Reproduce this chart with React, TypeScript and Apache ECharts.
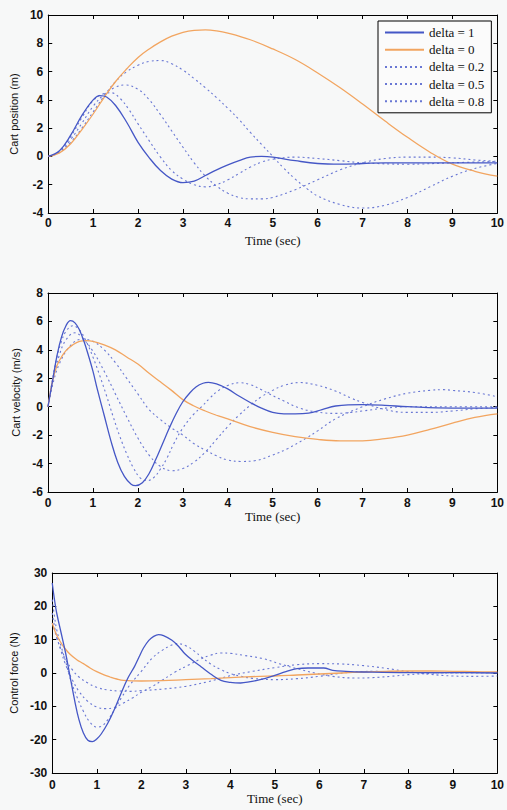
import React, { useEffect, useRef } from "react";
import * as echarts from "echarts";

const seriesNames = ["delta = 1", "delta = 0", "delta = 0.2", "delta = 0.5", "delta = 0.8"];
const axisTitles = ["Cart position (m)", "Cart velocity (m/s)", "Control force (N)"];
const xTitle = "Time (sec)";

// Cart position (m)
const posD1 = [[0,0],[0.25,0.4],[0.5,1.5],[0.75,2.9],[1,4.0],[1.15,4.3],[1.3,4.2],[1.5,3.6],[1.75,2.4],[2,1.0],[2.25,-0.1],[2.5,-1.0],[2.75,-1.6],[3,-1.85],[3.25,-1.75],[3.5,-1.35],[3.75,-0.95],[4,-0.6],[4.25,-0.3],[4.5,-0.05],[4.75,0.0],[5,-0.05],[5.5,-0.3],[6,-0.5],[6.5,-0.55],[7,-0.5],[7.5,-0.45],[8,-0.45],[9,-0.45],[10,-0.45]];
const posD0 = [[0,0],[0.25,0.25],[0.5,0.9],[0.75,1.9],[1,3.0],[1.25,4.2],[1.5,5.3],[1.75,6.2],[2,7.0],[2.25,7.6],[2.5,8.1],[2.75,8.5],[3,8.78],[3.25,8.92],[3.5,8.95],[3.75,8.88],[4,8.72],[4.5,8.25],[5,7.6],[5.5,6.85],[6,5.9],[6.5,4.85],[7,3.7],[7.5,2.5],[8,1.35],[8.5,0.3],[9,-0.55],[9.5,-1.05],[10,-1.4]];
const posD02 = [[0,0],[0.25,0.28],[0.5,1.0],[0.75,2.0],[1,3.15],[1.25,4.3],[1.5,5.3],[1.75,6.0],[2,6.45],[2.25,6.72],[2.5,6.78],[2.75,6.55],[3,6.1],[3.25,5.5],[3.5,4.85],[3.75,4.15],[4,3.4],[4.25,2.6],[4.5,1.7],[4.75,0.85],[5,0.0],[5.25,-0.85],[5.5,-1.6],[5.75,-2.25],[6,-2.8],[6.5,-3.4],[7,-3.65],[7.5,-3.45],[8,-2.9],[8.5,-2.15],[9,-1.4],[9.5,-0.85],[10,-0.5]];
const posD05 = [[0,0],[0.25,0.32],[0.5,1.2],[0.75,2.35],[1,3.55],[1.25,4.4],[1.5,4.9],[1.7,5.05],[2,4.75],[2.25,4.0],[2.5,2.95],[2.75,1.8],[3,0.65],[3.25,-0.45],[3.5,-1.4],[3.75,-2.1],[4,-2.6],[4.25,-2.9],[4.5,-3.0],[4.75,-3.0],[5,-2.9],[5.5,-2.35],[6,-1.65],[6.5,-0.95],[7,-0.45],[7.5,-0.15],[8,-0.05],[8.5,-0.05],[9,-0.1],[9.5,-0.25],[10,-0.35]];
const posD08 = [[0,0],[0.25,0.36],[0.5,1.4],[0.75,2.75],[1,3.95],[1.25,4.45],[1.4,4.5],[1.6,4.1],[1.8,3.3],[2,2.3],[2.25,1.1],[2.5,-0.05],[2.75,-1.0],[3,-1.6],[3.25,-2.0],[3.5,-2.15],[3.75,-2.0],[4,-1.65],[4.25,-1.2],[4.5,-0.75],[4.75,-0.4],[5,-0.2],[5.5,-0.05],[6,-0.15],[6.5,-0.3],[7,-0.45],[8,-0.55],[9,-0.45],[10,-0.35]];

// Cart velocity (m/s)
const velD1 = [[0,0],[0.1,1.8],[0.2,3.6],[0.3,4.9],[0.4,5.7],[0.5,6.05],[0.6,5.9],[0.7,5.4],[0.8,4.6],[0.9,3.6],[1,2.5],[1.1,1.2],[1.25,-0.6],[1.4,-2.4],[1.55,-3.9],[1.7,-4.9],[1.85,-5.45],[1.95,-5.55],[2.1,-5.35],[2.25,-4.7],[2.4,-3.7],[2.55,-2.6],[2.7,-1.5],[2.85,-0.5],[3,0.35],[3.15,0.95],[3.3,1.4],[3.45,1.65],[3.57,1.71],[3.75,1.6],[4,1.25],[4.25,0.75],[4.5,0.3],[4.75,-0.1],[5,-0.4],[5.25,-0.5],[5.5,-0.5],[5.8,-0.45],[6.1,-0.2],[6.4,0.05],[7,0.15],[7.5,0.1],[8,0.0],[9,-0.1],[10,-0.1]];
const velD0 = [[0,0],[0.1,1.8],[0.2,2.9],[0.3,3.5],[0.4,3.95],[0.55,4.35],[0.7,4.6],[0.85,4.65],[1,4.6],[1.25,4.35],[1.5,4.0],[1.75,3.5],[2,3.0],[2.25,2.35],[2.5,1.75],[2.75,1.15],[3,0.5],[3.25,0.05],[3.5,-0.3],[3.75,-0.6],[4,-0.85],[4.5,-1.4],[5,-1.8],[5.5,-2.1],[6,-2.3],[6.5,-2.4],[7,-2.4],[7.5,-2.25],[8,-2.0],[8.5,-1.6],[9,-1.15],[9.5,-0.75],[10,-0.5]];
const velD02 = [[0,0],[0.1,1.5],[0.25,3.0],[0.5,4.3],[0.75,4.75],[1,4.6],[1.25,4.0],[1.5,3.1],[1.75,2.0],[2,0.9],[2.25,-0.2],[2.5,-0.9],[2.75,-1.5],[3,-2.0],[3.25,-2.6],[3.5,-3.05],[3.75,-3.45],[4,-3.75],[4.3,-3.85],[4.6,-3.8],[5,-3.4],[5.33,-2.95],[5.75,-2.2],[6,-1.7],[6.4,-0.85],[7,0.0],[7.5,0.55],[8,0.95],[8.5,1.15],[8.8,1.2],[9,1.15],[9.5,1.0],[10,0.7]];
const velD05 = [[0,0],[0.1,1.8],[0.25,3.6],[0.4,4.7],[0.6,5.2],[0.75,4.9],[1,3.9],[1.25,2.5],[1.5,0.9],[1.75,-0.7],[2,-2.2],[2.25,-3.4],[2.5,-4.2],[2.76,-4.5],[3,-4.35],[3.25,-3.9],[3.5,-3.2],[3.75,-2.3],[4,-1.4],[4.25,-0.6],[4.5,0.1],[4.75,0.7],[5,1.15],[5.25,1.5],[5.6,1.7],[6,1.5],[6.4,1.1],[6.75,0.6],[7,0.3],[7.5,-0.2],[8,-0.4],[8.5,-0.4],[9,-0.3],[9.5,-0.15],[10,-0.05]];
const velD08 = [[0,0],[0.1,1.9],[0.2,3.5],[0.3,4.6],[0.4,5.3],[0.55,5.7],[0.7,5.4],[0.85,4.6],[1,3.5],[1.15,2.2],[1.3,0.8],[1.45,-0.7],[1.6,-2.1],[1.75,-3.3],[1.9,-4.3],[2.05,-5.0],[2.2,-5.2],[2.35,-5.0],[2.5,-4.4],[2.65,-3.6],[2.8,-2.6],[3,-1.5],[3.25,-0.5],[3.42,0.0],[3.6,0.6],[3.8,1.15],[4,1.5],[4.27,1.69],[4.5,1.55],[4.75,1.2],[4.9,0.94],[5.25,0.4],[5.6,-0.1],[6,-0.38],[6.4,-0.47],[6.75,-0.4],[7,-0.3],[7.5,-0.1],[8,0.0],[9,0.0],[10,0.0]];

// Control force (N)
const frcD1 = [[0,27],[0.05,22],[0.1,18],[0.2,12],[0.3,6],[0.4,-1],[0.5,-8],[0.6,-14],[0.7,-18],[0.8,-20.2],[0.9,-20.6],[1.0,-19.8],[1.1,-18.3],[1.25,-15],[1.4,-10.8],[1.55,-6],[1.7,-1.5],[1.85,2.0],[1.95,4.8],[2.05,7.5],[2.17,9.8],[2.28,11.0],[2.39,11.5],[2.5,11.2],[2.69,9.8],[2.85,7.8],[2.98,5.8],[3.15,3.8],[3.35,1.8],[3.55,-0.2],[3.79,-2.2],[4.0,-2.8],[4.23,-3.0],[4.45,-2.6],[4.67,-2.0],[5.0,-0.7],[5.25,0.4],[5.5,1.3],[5.75,1.5],[6.1,1.5],[6.3,0.8],[6.6,0.5],[7.0,0.3],[8.0,0.1],[9.0,0.1],[10,0.0]];
const frcD0 = [[0,15],[0.05,13],[0.1,11.3],[0.2,9],[0.26,7.8],[0.4,5.6],[0.55,4.0],[0.7,2.8],[0.85,1.5],[1.0,0.4],[1.15,-0.5],[1.3,-1.2],[1.45,-1.8],[1.6,-2.2],[2.0,-2.4],[2.47,-2.3],[3.0,-2.0],[3.57,-1.7],[4.0,-1.4],[4.67,-1.0],[5.0,-0.9],[5.5,-0.6],[6.0,-0.3],[6.5,0.0],[7.0,0.3],[7.5,0.5],[8.0,0.6],[8.5,0.6],[9.0,0.5],[9.5,0.4],[10,0.3]];
const frcD02 = [[0,15],[0.05,13],[0.1,10.5],[0.2,7],[0.3,4],[0.45,1],[0.6,-1.2],[0.8,-3],[1.0,-4.3],[1.25,-5.1],[1.5,-5.4],[1.75,-5.5],[2.0,-5.3],[2.5,-4.8],[3.0,-4.0],[3.5,-2.6],[4.0,-0.8],[4.5,0.5],[5.0,1.6],[5.5,2.5],[6.0,2.8],[6.5,2.7],[7.0,2.2],[7.5,1.4],[8.0,0.4],[8.5,-0.4],[9.0,-0.9],[9.5,-1.0],[10,-0.9]];
const frcD05 = [[0,18],[0.05,14],[0.1,11],[0.2,6.5],[0.3,2.5],[0.45,-2],[0.6,-5.5],[0.8,-8.5],[1.0,-10.2],[1.2,-10.7],[1.4,-10.3],[1.6,-9],[1.8,-7.5],[2.0,-5.8],[2.25,-4.0],[2.47,-2.2],[2.75,0.2],[3.05,2.3],[3.3,4.0],[3.55,5.3],[3.79,6.0],[4.0,5.9],[4.3,5.3],[4.74,4.3],[5.1,2.8],[5.5,1.3],[5.9,0.0],[6.3,-1.0],[6.8,-1.5],[7.2,-1.4],[7.6,-1.0],[8.0,-0.5],[8.5,-0.1],[9.0,0.1],[10,0.1]];
const frcD08 = [[0,22],[0.05,17],[0.1,13],[0.2,8],[0.3,3.5],[0.4,-1.5],[0.55,-7],[0.7,-11.5],[0.85,-14.8],[1.0,-16.2],[1.1,-16.0],[1.25,-14],[1.4,-11],[1.55,-7.5],[1.75,-3.5],[2.0,0.5],[2.25,4.5],[2.47,6.8],[2.65,8.2],[2.8,8.8],[3.0,8.2],[3.2,6.5],[3.35,4.8],[3.55,2.8],[3.79,1.0],[4.0,-0.2],[4.25,-1.0],[4.5,-1.6],[5.0,-2.0],[5.5,-1.7],[6.0,-1.0],[6.4,-0.2],[6.8,0.3],[7.2,0.5],[7.5,0.4],[8.0,0.2],[9.0,0.0],[10,0.0]];

const panels = [
  [posD1, posD0, posD02, posD05, posD08],
  [velD1, velD0, velD02, velD05, velD08],
  [frcD1, frcD0, frcD02, frcD05, frcD08],
];
const yMins = [-4, -6, -30];
const yMaxs = [10, 8, 30];
const yIntervals = [2, 2, 10];

export default function App() {
  const ref = useRef<HTMLDivElement>(null);
  useEffect(() => {
    if (!ref.current) return;
    const chart = echarts.init(ref.current, null, { renderer: "svg" });
    const grids = [
      { left: 48, top: 15, width: 454, height: 198 },
      { left: 48, top: 293, width: 454, height: 199 },
      { left: 48, top: 573, width: 454, height: 200 },
    ];
    const labelMargins = [4, 5, 6];
    const nameGaps = [21, 18, 14];
    const tickFont = { fontFamily: "Liberation Sans", fontSize: 12, fontWeight: "bold" as const, color: "#111" };
    const axisLine = { show: true, onZero: false, lineStyle: { color: "#000", width: 1 } };
    const tick = { show: true, inside: true, length: 4, lineStyle: { color: "#000" } };
    const xAxes: any[] = [];
    const yAxes: any[] = [];
    for (let i = 0; i < 3; i++) {
      xAxes.push({
        type: "value", gridIndex: i, min: 0, max: 10, interval: 1, position: "bottom",
        axisLine, axisTick: tick, splitLine: { show: false },
        axisLabel: { ...tickFont, margin: labelMargins[i] },
        name: xTitle, nameLocation: "middle", nameGap: nameGaps[i],
        nameTextStyle: { fontFamily: "Liberation Serif", fontSize: 13, color: "#111" },
      });
      yAxes.push({
        type: "value", gridIndex: i, min: yMins[i], max: yMaxs[i], interval: yIntervals[i], position: "left",
        axisLine, axisTick: tick, splitLine: { show: false },
        axisLabel: { ...tickFont, margin: 5 },
        name: axisTitles[i], nameLocation: "middle", nameGap: 26, nameRotate: 90,
        nameTextStyle: { fontFamily: "Liberation Sans", fontSize: 11, color: "#111" },
      });
    }
    for (let i = 0; i < 3; i++) {
      xAxes.push({
        type: "value", gridIndex: i, min: 0, max: 10, interval: 1, position: "top",
        axisLine, axisTick: tick, axisLabel: { show: false }, splitLine: { show: false },
      });
      yAxes.push({
        type: "value", gridIndex: i, min: yMins[i], max: yMaxs[i], interval: yIntervals[i], position: "right",
        axisLine, axisTick: tick, axisLabel: { show: false }, splitLine: { show: false },
      });
    }
    const styles = [
      { color: "#4557c6", width: 1.3, type: "solid" },
      { color: "#f2a560", width: 1.3, type: "solid" },
      { color: "#6a78d4", width: 1.1, type: [2, 3] },
      { color: "#6a78d4", width: 1.1, type: [2, 3] },
      { color: "#6a78d4", width: 1.1, type: [2, 3] },
    ];
    const series: any[] = [];
    const order = [2, 3, 4, 1, 0];
    for (let p = 0; p < 3; p++) {
      for (const s of order) {
        series.push({
          type: "line", name: seriesNames[s], xAxisIndex: p, yAxisIndex: p,
          data: panels[p][s], showSymbol: false, symbol: "none", smooth: 0.4,
          lineStyle: styles[s], itemStyle: { color: styles[s].color },
          z: s === 0 ? 5 : s === 1 ? 4 : 3,
        });
      }
    }
    chart.setOption({
      animation: false,
      backgroundColor: "#f7f8f8",
      grid: grids,
      xAxis: xAxes,
      yAxis: yAxes,
      legend: {
        data: seriesNames, orient: "vertical", left: 378, top: 21,
        itemWidth: 39, itemHeight: 14, itemGap: 4.2,
        padding: [5, 7, 5, 6], borderColor: "#000", borderWidth: 1, backgroundColor: "#fbfbfb",
        selectedMode: false,
        itemStyle: { opacity: 0 },
        textStyle: { fontFamily: "Liberation Serif", fontSize: 13, color: "#111" },
      },
      series,
    });
    return () => chart.dispose();
  }, []);
  return (
    <div
      ref={ref}
      style={{ position: "absolute", left: 0, top: 0, width: 507, height: 810 }}
    />
  );
}
